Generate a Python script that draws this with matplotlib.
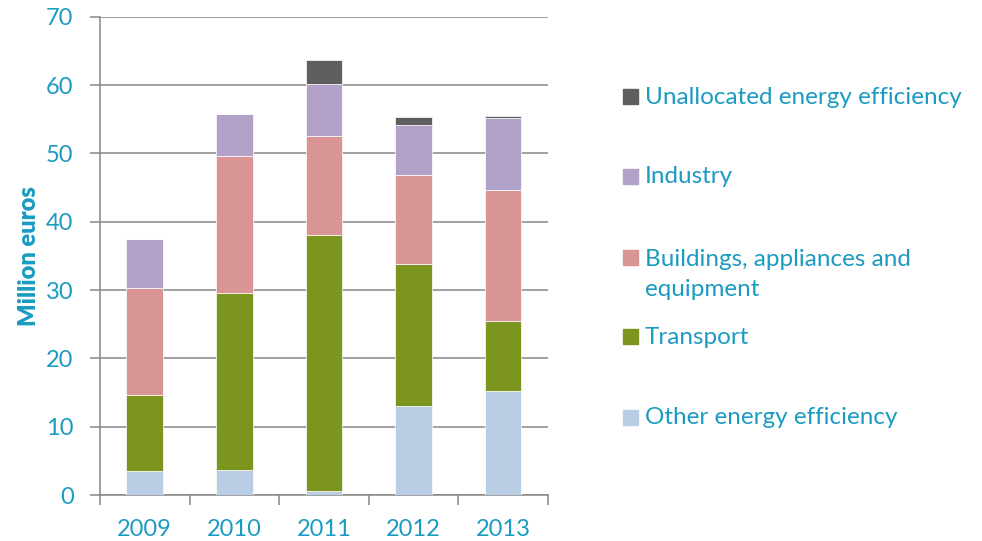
import matplotlib.pyplot as plt
from matplotlib.patches import Rectangle
import numpy as np

# -----------------------------
# DATA (million euros)
# -----------------------------
years = ["2009", "2010", "2011", "2012", "2013"]
other = [3.5, 3.7, 0.6, 13.0, 15.2]
transport = [11.1, 25.9, 37.5, 20.8, 10.3]
buildings = [15.7, 20.0, 14.4, 13.0, 19.1]
industry = [7.2, 6.1, 7.6, 7.4, 10.6]
unallocated = [0.0, 0.0, 3.5, 1.2, 0.3]

series = [
    ("Other energy efficiency", other, "#B9CDE5"),
    ("Transport", transport, "#7B951E"),
    ("Buildings, appliances and\nequipment", buildings, "#D99594"),
    ("Industry", industry, "#B3A2C7"),
    ("Unallocated energy efficiency", unallocated, "#5F5F5F"),
]

teal = "#1B9BC2"
grid_col = "#878787"
plt.rcParams['font.family'] = ['Lato', 'DejaVu Sans']

fig = plt.figure(figsize=(9.82, 5.41), dpi=100)
ax = fig.add_axes([0.1018, 0.085, 0.456, 0.884])

# -----------------------------
# STACKED BARS
# -----------------------------
x = np.arange(len(years))
bottom = np.zeros(len(years))
for label, vals, col in series:
    vals = np.array(vals)
    ax.bar(x, vals, width=0.41, bottom=bottom, color=col,
           edgecolor="white", linewidth=0.5, zorder=3)
    bottom += vals

ax.set_xlim(-0.5, 4.5)
ax.set_ylim(0, 70)
ax.set_yticks(range(0, 71, 10))
ax.set_xticks(x)
ax.set_xticklabels(years)
ax.set_xticks(np.arange(-0.5, 5, 1), minor=True)

ax.yaxis.grid(True, color=grid_col, linewidth=1.1, zorder=0)
for s in ["top", "right"]:
    ax.spines[s].set_visible(False)
for s in ["left", "bottom"]:
    ax.spines[s].set_color(grid_col)
    ax.spines[s].set_linewidth(1.1)

ax.tick_params(axis="y", colors=grid_col, length=7, width=1.1,
               labelcolor=teal, labelsize=17, pad=12)
ax.tick_params(axis="x", which="major", length=0, labelcolor=teal,
               labelsize=17, pad=17)
ax.tick_params(axis="x", which="minor", length=7, width=1.1, colors=grid_col)

ax.set_ylabel("Million euros", color=teal, fontsize=17, fontweight="heavy")
ax.yaxis.set_label_coords(-0.135, 0.5)

# -----------------------------
# LEGEND (manual, handle aligned to first line)
# -----------------------------
legend_rows = [
    ("Unallocated energy efficiency", "#5F5F5F", 97),
    ("Industry", "#B3A2C7", 177),
    ("Buildings, appliances and\nequipment", "#D99594", 258),
    ("Transport", "#7B951E", 337),
    ("Other energy efficiency", "#B9CDE5", 418),
]
W, H = 982.0, 541.0
for label, col, ypx in legend_rows:
    fig.patches.append(Rectangle((623 / W, 1 - (ypx + 7) / H), 15 / W, 15 / H,
                                 transform=fig.transFigure, color=col))
    if "\n" in label:
        fig.text(645 / W, 1 - (ypx - 9) / H, label, color=teal, fontsize=17.5,
                 va="top", linespacing=1.55)
    else:
        fig.text(645 / W, 1 - ypx / H, label, color=teal, fontsize=17.5,
                 va="center")

fig.savefig("out.png", dpi=100)
